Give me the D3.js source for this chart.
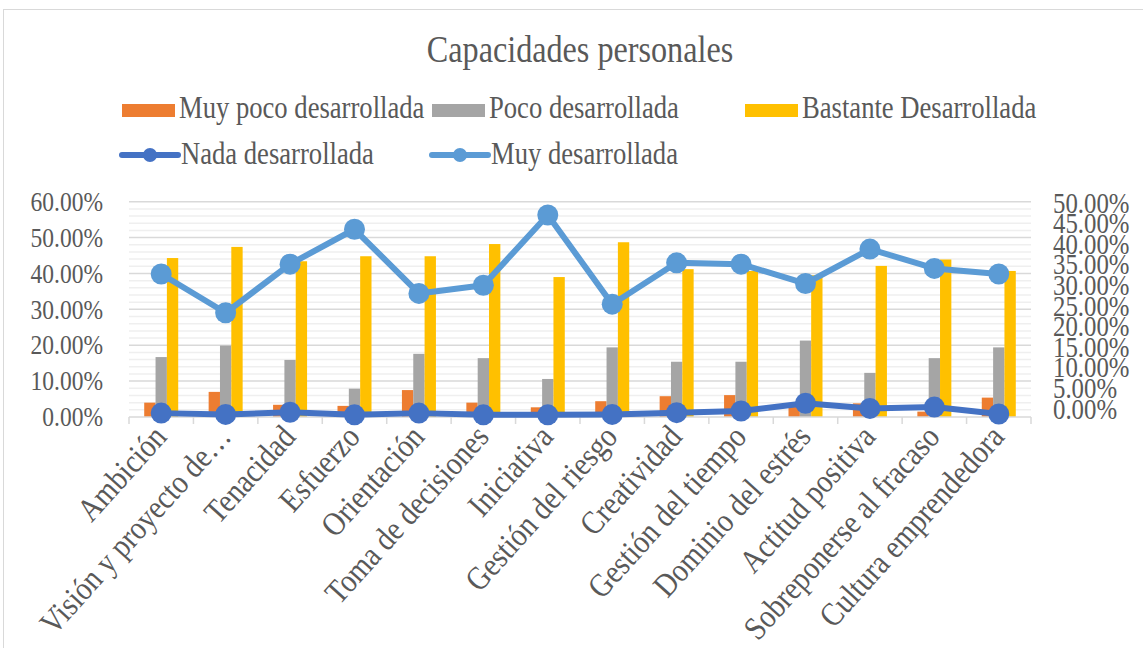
<!DOCTYPE html>
<html>
<head>
<meta charset="utf-8">
<script src="https://cdnjs.cloudflare.com/ajax/libs/d3/7.8.5/d3.min.js"></script>
<style>
  body { margin: 0; background: #fff; }
  svg { display: block; font-family: "Liberation Serif", "Times New Roman", serif; }
</style>
</head>
<body>
<div id="chart"></div>
<script>
// datos (porcentajes)
var categories = ["Ambición", "Visión y proyecto de…", "Tenacidad", "Esfuerzo", "Orientación",
    "Toma de decisiones", "Iniciativa", "Gestión del riesgo", "Creatividad", "Gestión del tiempo",
    "Dominio del estrés", "Actitud positiva", "Sobreponerse al fracaso", "Cultura emprendedora"];
var muyPoco  = [0.040, 0.070, 0.034, 0.031, 0.075, 0.040, 0.027, 0.044, 0.058, 0.061, 0.029, 0.038, 0.015, 0.054];
var poco     = [0.167, 0.199, 0.159, 0.079, 0.176, 0.164, 0.106, 0.194, 0.154, 0.154, 0.213, 0.123, 0.164, 0.194];
var bastante = [0.443, 0.474, 0.434, 0.448, 0.448, 0.482, 0.390, 0.487, 0.412, 0.407, 0.395, 0.421, 0.439, 0.407];
var nada     = [0.009, 0.006, 0.011, 0.005, 0.009, 0.005, 0.005, 0.006, 0.010, 0.014, 0.032, 0.020, 0.023, 0.007];
var muy      = [0.332, 0.242, 0.355, 0.436, 0.287, 0.306, 0.469, 0.262, 0.358, 0.355, 0.310, 0.390, 0.345, 0.332];
var leftTicks  = [0, 0.1, 0.2, 0.3, 0.4, 0.5, 0.6];
var rightTicks = [0, 0.05, 0.1, 0.15, 0.2, 0.25, 0.3, 0.35, 0.4, 0.45, 0.5];

var barSeries = [
    {name: "Muy poco desarrollada", values: muyPoco, color: "#ED7D31"},
    {name: "Poco desarrollada", values: poco, color: "#A5A5A5"},
    {name: "Bastante Desarrollada", values: bastante, color: "#FFC000"}
];
var lineSeries = [
    {name: "Nada desarrollada", values: nada, color: "#4472C4"},
    {name: "Muy desarrollada", values: muy, color: "#5B9BD5"}
];

var width = 1143, height = 648;
var sx = 0.87;          // el texto del original sale algo estrecho
var textColor = "#595959";
var plot = {left: 129, right: 1031, top: 201.7, bottom: 417};

var svg = d3.select("#chart").append("svg")
    .attr("width", width)
    .attr("height", height);

// marco del grafico
svg.append("rect")
    .attr("x", 3.5).attr("y", 9.5)
    .attr("width", 1150).attr("height", 650)
    .attr("fill", "#fff")
    .attr("stroke", "#d9d9d9");

var x = d3.scaleBand()
    .domain(categories)
    .range([plot.left, plot.right]);
var groupW = 34;
var xSub = d3.scaleBand()
    .domain(barSeries.map(d => d.name))
    .range([(x.bandwidth() - groupW) / 2, (x.bandwidth() + groupW) / 2]);
var y = d3.scaleLinear().domain([0, 0.6]).range([plot.bottom, plot.top]);
var y2 = d3.scaleLinear().domain([0, 0.5]).range([plot.bottom, plot.top]);
// las etiquetas del eje derecho quedan un poco apretadas en el original
var y2Label = d3.scaleLinear().domain([0, 0.5]).range([409, 203]);

// lineas de division (menores cada 2%, mayores cada 10%)
var minor = y.ticks(30);
svg.append("g").selectAll("line")
    .data(minor.filter(d => Math.round(d * 100) % 10 != 0))
    .enter().append("line")
    .attr("x1", plot.left).attr("x2", plot.right)
    .attr("y1", d => y(d)).attr("y2", d => y(d))
    .style("stroke", "#efefef")
    .style("stroke-width", 1.5);
svg.append("g").selectAll("line")
    .data(leftTicks.slice(1))
    .enter().append("line")
    .attr("x1", plot.left).attr("x2", plot.right)
    .attr("y1", d => y(d)).attr("y2", d => y(d))
    .style("stroke", "#d9d9d9")
    .style("stroke-width", 1.5);

// barras
var groups = svg.append("g").selectAll("g")
    .data(categories)
    .enter().append("g")
    .attr("transform", d => "translate(" + x(d) + ",0)");
groups.selectAll("rect")
    .data((c, i) => barSeries.map(s => ({name: s.name, color: s.color, v: s.values[i]})))
    .enter().append("rect")
    .attr("x", d => xSub(d.name))
    .attr("width", xSub.bandwidth())
    .attr("y", d => y(d.v))
    .attr("height", d => y(0) - y(d.v))
    .attr("fill", d => d.color);

// eje x
svg.append("line")
    .attr("x1", plot.left).attr("x2", plot.right)
    .attr("y1", plot.bottom).attr("y2", plot.bottom)
    .style("stroke", "#d9d9d9").style("stroke-width", 1.5);
svg.append("g").selectAll("line")
    .data(categories.map(c => x(c)).concat([plot.right]))
    .enter().append("line")
    .attr("x1", d => d).attr("x2", d => d)
    .attr("y1", plot.bottom).attr("y2", plot.bottom + 7)
    .style("stroke", "#d9d9d9").style("stroke-width", 1.5);

svg.append("g").selectAll("text")
    .data(categories)
    .enter().append("text")
    .attr("text-anchor", "end")
    .attr("font-size", "33px")
    .attr("fill", textColor)
    .attr("transform", d => "translate(" + (x(d) + x.bandwidth() / 2 + 7) + "," + (plot.bottom + 21) + ") rotate(-48) scale(" + sx + ",1)")
    .text(d => d);

// lineas (eje secundario)
var line = d3.line()
    .x((d, i) => x(categories[i]) + x.bandwidth() / 2)
    .y(d => y2(d));
lineSeries.forEach(function(s) {
    svg.append("path")
        .datum(s.values)
        .attr("fill", "none")
        .attr("stroke", s.color)
        .attr("stroke-width", 6)
        .attr("stroke-linejoin", "round")
        .attr("d", line);
    svg.append("g").selectAll("circle")
        .data(s.values)
        .enter().append("circle")
        .attr("cx", (d, i) => x(categories[i]) + x.bandwidth() / 2)
        .attr("cy", d => y2(d))
        .attr("r", 10.5)
        .attr("fill", s.color);
});

// ejes y
var fmt = d3.format(".2%");
var axL = svg.append("g")
    .attr("transform", "translate(" + plot.left + ",0)")
    .call(d3.axisLeft(y).tickValues(leftTicks).tickFormat(fmt).tickSize(0).tickPadding(26));
var axR = svg.append("g")
    .attr("transform", "translate(" + plot.right + ",0)")
    .call(d3.axisRight(y2Label).tickValues(rightTicks).tickFormat(fmt).tickSize(0).tickPadding(22));
[[axL, "27px"], [axR, "28.5px"]].forEach(function(a) {
    var ax = a[0];
    ax.select(".domain").remove();
    ax.selectAll("text")
        .attr("font-size", a[1])
        .attr("font-family", "Liberation Serif, serif")
        .attr("fill", textColor)
        .attr("transform", function() { return "translate(" + d3.select(this).attr("x") + ",0) scale(" + sx + ",1)"; })
        .attr("x", 0);
});

// titulo
svg.append("text")
    .attr("text-anchor", "middle")
    .attr("font-size", "37px")
    .attr("fill", textColor)
    .attr("transform", "translate(580,62) scale(" + sx + ",1)")
    .text("Capacidades personales");

// leyenda
var legFont = "30.6px";
var barLegX = [122, 432, 745];
var lineLegX = [122, 432];
barSeries.forEach(function(s, i) {
    svg.append("rect")
        .attr("x", barLegX[i]).attr("y", 104)
        .attr("width", 53).attr("height", 13)
        .attr("fill", s.color);
    svg.append("text")
        .attr("font-size", legFont)
        .attr("fill", textColor)
        .attr("transform", "translate(" + (barLegX[i] + 57) + ",118) scale(" + sx + ",1)")
        .text(s.name);
});
lineSeries.forEach(function(s, i) {
    svg.append("line")
        .attr("x1", lineLegX[i]).attr("x2", lineLegX[i] + 56)
        .attr("y1", 155).attr("y2", 155)
        .attr("stroke", s.color).attr("stroke-width", 6)
        .attr("stroke-linecap", "round");
    svg.append("circle")
        .attr("cx", lineLegX[i] + 28).attr("cy", 155)
        .attr("r", 7)
        .attr("fill", s.color);
    svg.append("text")
        .attr("font-size", legFont)
        .attr("fill", textColor)
        .attr("transform", "translate(" + (lineLegX[i] + 59) + ",164) scale(" + sx + ",1)")
        .text(s.name);
});
</script>
</body>
</html>
